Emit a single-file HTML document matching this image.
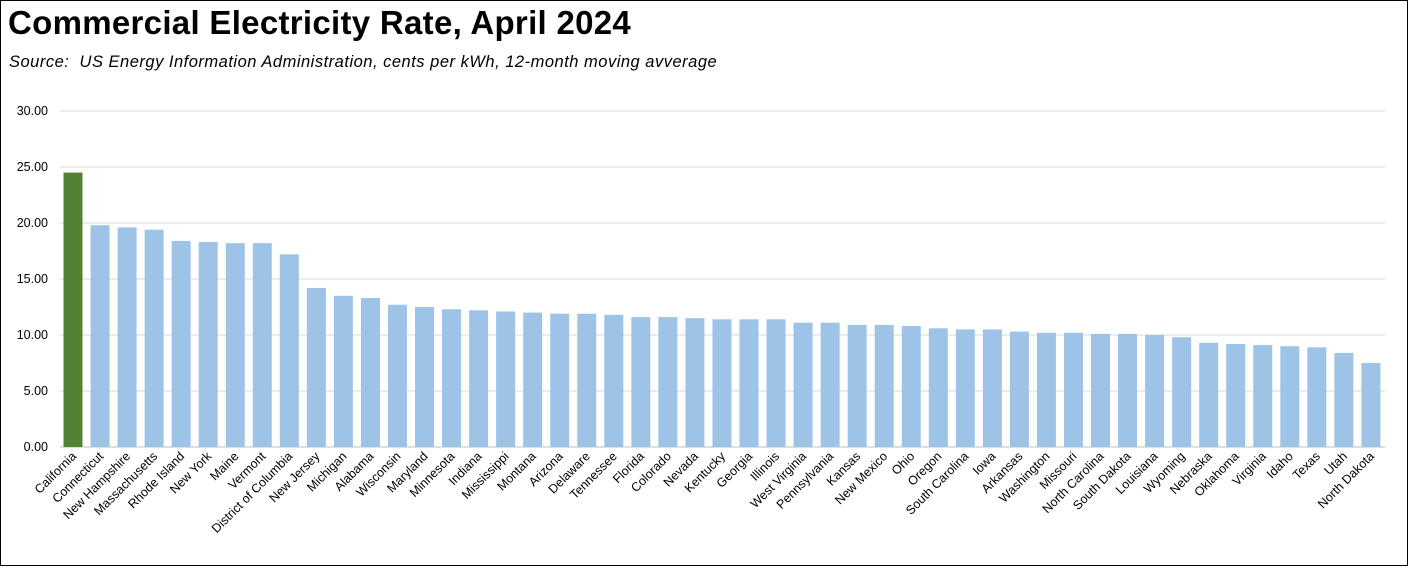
<!DOCTYPE html>
<html><head><meta charset="utf-8"><style>
html,body{margin:0;padding:0;background:#fff}
#c{position:relative;width:1406px;height:564px;border:1.5px solid #000;overflow:hidden}
.t{position:absolute;left:7px;top:3px;font:bold 33px "Liberation Sans",sans-serif;color:#000;letter-spacing:0.3px}
.s{position:absolute;left:8px;top:52px;font:italic 16.5px "Liberation Sans",sans-serif;color:#000;letter-spacing:0.5px}
svg{position:absolute;left:0;top:0}
</style></head><body><div id="c">
<div class="t">Commercial Electricity Rate, April 2024</div>
<div class="s">Source:&nbsp; US Energy Information Administration, cents per kWh, 12-month moving avverage</div>
<svg id="g" width="1407" height="565" font-family="Liberation Sans, sans-serif" font-size="12.5"></svg>
</div>
<script>
var d=[["California",24.5],["Connecticut",19.8],["New Hampshire",19.6],["Massachusetts",19.4],["Rhode Island",18.4],["New York",18.3],["Maine",18.2],["Vermont",18.2],["District of Columbia",17.2],["New Jersey",14.2],["Michigan",13.5],["Alabama",13.3],["Wisconsin",12.7],["Maryland",12.5],["Minnesota",12.3],["Indiana",12.2],["Mississippi",12.1],["Montana",12.0],["Arizona",11.9],["Delaware",11.9],["Tennessee",11.8],["Florida",11.6],["Colorado",11.6],["Nevada",11.5],["Kentucky",11.4],["Georgia",11.4],["Illinois",11.4],["West Virginia",11.1],["Pennsylvania",11.1],["Kansas",10.9],["New Mexico",10.9],["Ohio",10.8],["Oregon",10.6],["South Carolina",10.5],["Iowa",10.5],["Arkansas",10.3],["Washington",10.2],["Missouri",10.2],["North Carolina",10.1],["South Dakota",10.1],["Louisiana",10.0],["Wyoming",9.8],["Nebraska",9.3],["Oklahoma",9.2],["Virginia",9.1],["Idaho",9.0],["Texas",8.9],["Utah",8.4],["North Dakota",7.5]];
var s="",y0=446,k=11.2;
for(var i=0;i<=6;i++){var y=y0-i*56;s+='<line x1="59" x2="1384" y1="'+y+'" y2="'+y+'" stroke="'+(i?'#d9d9d9':'#bfbfbf')+'"/>';
s+='<text x="47" y="'+(y+4)+'" text-anchor="end">'+(i*5).toFixed(2)+'</text>';}
d.forEach(function(e,i){var cx=72+i*27.04,h=e[1]*k;
s+='<rect x="'+(cx-9.5)+'" y="'+(y0-h)+'" width="19" height="'+h+'" fill="'+(i?'#9dc3e6':'#548235')+'"/>';
s+='<text transform="translate('+(cx+4)+','+(y0+10)+') rotate(-45)" text-anchor="end">'+e[0]+'</text>';});
document.getElementById('g').innerHTML=s;
</script>
</body></html>
